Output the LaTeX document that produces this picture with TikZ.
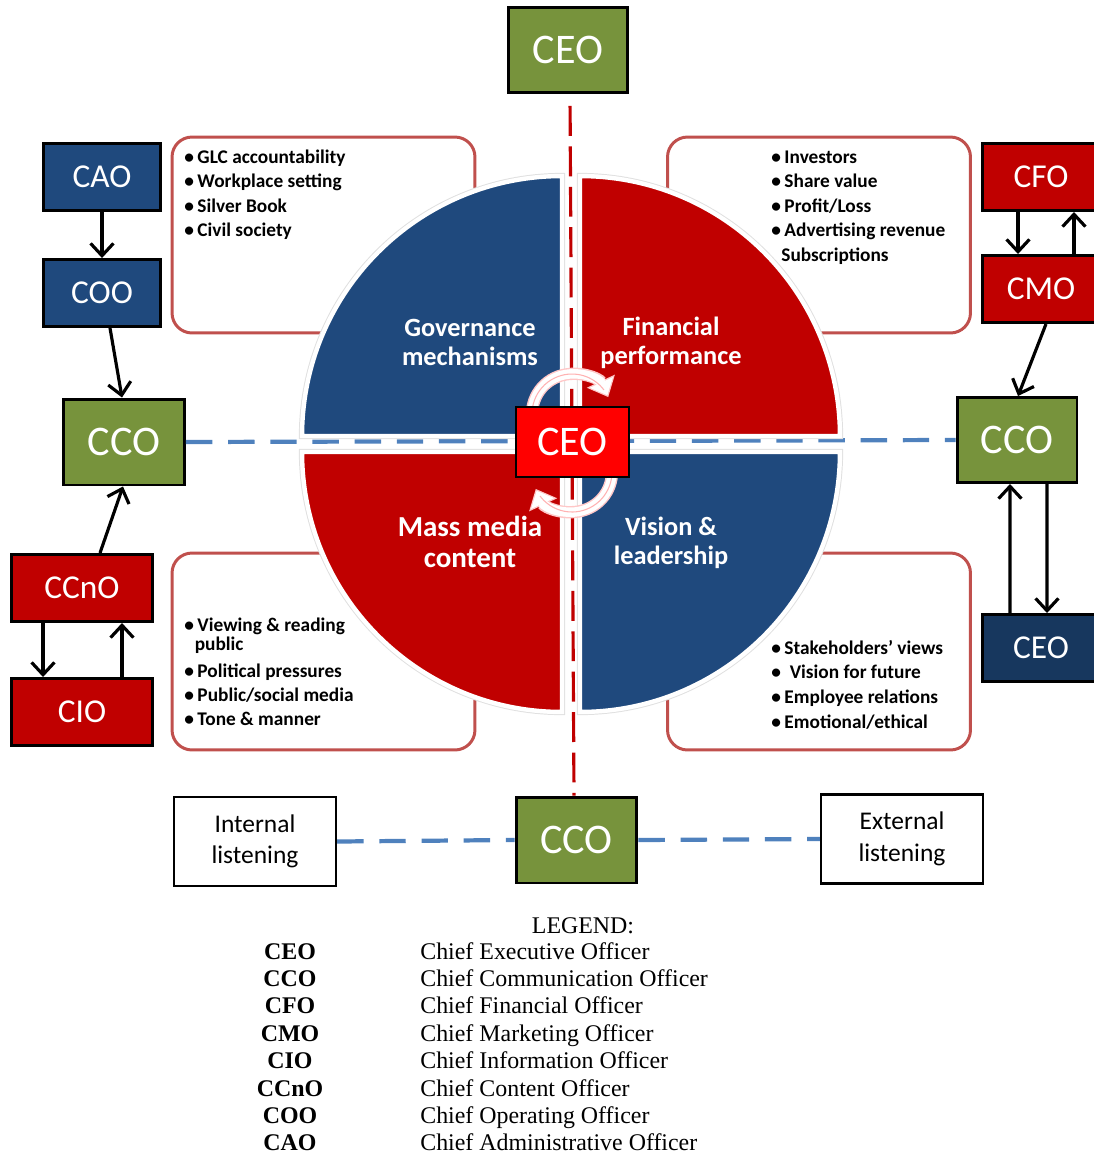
\documentclass[tikz,border=0pt]{standalone}
\usepackage{fontspec}
\setmainfont{Carlito}
\newfontfamily\legendfont{Liberation Serif}
\usetikzlibrary{arrows.meta}

\definecolor{oliveG}{HTML}{77933C}
\definecolor{navyB}{HTML}{1F497D}
\definecolor{darkB}{HTML}{17375E}
\definecolor{deepR}{HTML}{C00000}
\definecolor{boxR}{HTML}{C0504D}
\definecolor{dashB}{HTML}{4F81BD}

\tikzset{
  role/.style={draw=black, line width=1.7pt, text=white, inner sep=0pt,
    font=\fontsize{19}{19}\selectfont, minimum width=2.36cm, minimum height=1.34cm},
  hub/.style={role, fill=oliveG, font=\fontsize{24}{24}\selectfont,
    minimum width=2.42cm, minimum height=1.72cm},
  listen/.style={draw=black, line width=1.4pt, align=center, inner sep=0pt,
    font=\fontsize{14.5}{18}\selectfont, minimum width=3.24cm, minimum height=1.78cm},
  topic/.style={draw=boxR, line width=1.7pt, rounded corners=0.4cm, fill=white,
    inner sep=0pt, minimum width=6.06cm, minimum height=3.92cm},
  point/.style={anchor=base west, inner sep=0pt, font=\fontsize{11}{13}\selectfont\bfseries},
  quad/.style={draw=white, line width=2.5pt, preaction={draw=black!12, line width=3.6pt}},
  quadtext/.style={text=white, align=center, font=\fontsize{15}{16.5}\selectfont\bfseries},
  link/.style={-{Straight Barb[length=7pt,width=13pt]}, line width=1.8pt},
  hdash/.style={dashB, line width=2.4pt, dash pattern=on 15pt off 9pt},
  vdash/.style={deepR, line width=1.8pt, dash pattern=on 17pt off 6pt},
  legab/.style={anchor=base, inner sep=0pt, font=\legendfont\fontsize{13.6}{16}\selectfont\bfseries},
  legfull/.style={anchor=base west, inner sep=0pt, font=\legendfont\fontsize{13.6}{16}\selectfont}
}

\begin{document}
\begin{tikzpicture}[x=0.02cm, y=0.02cm]
  \useasboundingbox (0,0) rectangle (1094,-1157);

  % Topic boxes
  \node[topic] (govBox) at (323.5,-235) {};
  \node[topic] (finBox) at (819,-235) {};
  \node[topic, minimum height=3.94cm] (medBox) at (323.5,-651.5) {};
  \node[topic, minimum height=3.94cm] (visBox) at (819,-651.5) {};

  % Bullet points
  \foreach \t [count=\i from 0] in {GLC accountability, Workplace setting, Silver Book, Civil society}
    \node[point] (gov\i) at (184,-163-24.5*\i) {\textbullet\hspace{2pt}\t};
  \foreach \t [count=\i from 0] in {Investors, Share value, Profit/Loss, Advertising revenue}
    \node[point] (fin\i) at (771,-163-24.5*\i) {\textbullet\hspace{2pt}\t};
  \node[point] (fin4) at (781,-261) {Subscriptions};
  \node[point] (med0) at (184,-631) {\textbullet\hspace{2pt}Viewing \& reading};
  \node[point] (med1) at (194.5,-650) {public};
  \foreach \t [count=\i from 2] in {Political pressures, Public/social media, Tone \& manner}
    \node[point] (med\i) at (184,-677-24.3*\i+48.6) {\textbullet\hspace{2pt}\t};
  \foreach \t [count=\i from 0] in {Stakeholders' views, \hspace{3pt}Vision for future, Employee relations, Emotional/ethical}
    \node[point] (vis\i) at (771,-654-24.7*\i) {\textbullet\hspace{2pt}\t};

  % Officers
  \node[hub, minimum width=2.4cm, minimum height=1.7cm] (ceoTop) at (568,-50) {CEO};
  \node[role, fill=navyB] (cao) at (102,-177) {CAO};
  \node[role, fill=navyB] (coo) at (102,-293) {COO};
  \node[hub] (ccoL) at (124,-442) {CCO};
  \node[role, fill=deepR, minimum width=2.82cm] (ccno) at (82,-588) {CCnO};
  \node[role, fill=deepR, minimum width=2.82cm] (cio) at (82,-712) {CIO};
  \node[role, fill=deepR] (cfo) at (1041,-177) {CFO};
  \node[role, fill=deepR] (cmo) at (1041,-289) {CMO};
  \node[hub, minimum width=2.4cm, minimum height=1.7cm] (ccoR) at (1017,-440) {CCO};
  \node[role, fill=darkB] (ceoR) at (1041,-648) {CEO};
  \node[hub] (ccoB) at (576.5,-840) {CCO};
  \node[listen] (intL) at (255,-841.5) {Internal\\listening};
  \node[listen] (extL) at (902,-839) {External\\listening};

  % Reporting lines
  \draw[link] (cao) -- (coo);
  \draw[link] ([xshift=0.16cm]coo.south) -- ([xshift=-0.04cm]ccoL.north);
  \draw[link] ([xshift=0.36cm]ccno.north) -- ([xshift=-0.02cm]ccoL.south);
  \draw[link] ([xshift=-0.78cm]ccno.south) -- ([xshift=-0.78cm]cio.north);
  \draw[link] ([xshift=0.8cm]cio.north) -- ([xshift=0.8cm]ccno.south);
  \draw[link] ([xshift=-0.46cm]cfo.south) -- ([xshift=-0.46cm]cmo.north);
  \draw[link] ([xshift=0.66cm]cmo.north) -- ([xshift=0.66cm]cfo.south);
  \draw[link] ([xshift=0.1cm]cmo.south) -- ([xshift=0.02cm]ccoR.north);
  \draw[link] ([xshift=-0.62cm]ceoR.north) -- ([xshift=-0.14cm]ccoR.south);
  \draw[link] ([xshift=0.6cm]ccoR.south) -- ([xshift=0.12cm]ceoR.north);

  % Axes
  \draw[vdash, shorten <=0.24cm] ([xshift=0.04cm]ceoTop.south) -- ([xshift=-0.05cm]ccoB.north);
  \draw[hdash] (ccoL.east) -- (ccoR.west);
  \draw[hdash] (intL.east) -- (ccoB.west);
  \draw[hdash] (ccoB.east) -- (extL.west);

  % Quadrants
  \foreach \cx/\cy/\a/\col in {562/-436/90/navyB, 580/-436/0/deepR, 562/-452/180/deepR, 580/-452/270/navyB}
    \draw[quad, fill=\col] (\cx,\cy) -- ++(\a:5.2cm) arc[start angle=\a, delta angle=90, radius=5.2cm] -- cycle;

  \node[quadtext] (govText) at (470,-342.5) {Governance\\mechanisms};
  \node[quadtext] (finText) at (671,-342.5) {Financial\\performance};
  \node[quadtext, font=\fontsize{16.5}{18}\selectfont\bfseries] (medText) at (470,-542) {Mass media\\content};
  \node[quadtext] (visText) at (671,-543) {Vision \&\\leadership};

  % Cycle arrows
  \foreach \cy/\s/\e in {-414/200/25, -472/20/-155}
  {
    \draw[red!22, line width=7pt, -{Triangle[length=10pt,width=17pt]}]
      (572,\cy) ++(\s:0.8cm) arc[start angle=\s, end angle=\e, radius=0.8cm];
    \draw[white, line width=5.4pt, shorten >=1.2pt, -{Triangle[length=8pt,width=14pt]}]
      (572,\cy) ++(\s:0.8cm) arc[start angle=\s, end angle=\e, radius=0.8cm];
    \draw[red!30, line width=0.6pt]
      (572,\cy) ++(\s:0.8cm) arc[start angle=\s, end angle=\e+12, radius=0.8cm];
  }

  \node[draw=black, line width=0.8pt, fill=red, text=white, inner sep=0pt,
    font=\fontsize{24}{24}\selectfont, minimum width=2.26cm, minimum height=1.4cm] (ceoMid) at (572.5,-442) {CEO};

  % Legend
  \node[anchor=base, inner sep=0pt, font=\legendfont\fontsize{13.6}{16}\selectfont] (legend) at (583,-933) {LEGEND:};
  \foreach \ab/\full [count=\i from 0] in {CEO/Chief Executive Officer, CCO/Chief Communication Officer,
      CFO/Chief Financial Officer, CMO/Chief Marketing Officer, CIO/Chief Information Officer,
      CCnO/Chief Content Officer, COO/Chief Operating Officer, CAO/Chief Administrative Officer}
  {
    \node[legab] (ab\i) at (290,-959-27.4*\i) {\ab};
    \node[legfull] (full\i) at (420,-959-27.4*\i) {\full};
  }

\end{tikzpicture}
\end{document}
